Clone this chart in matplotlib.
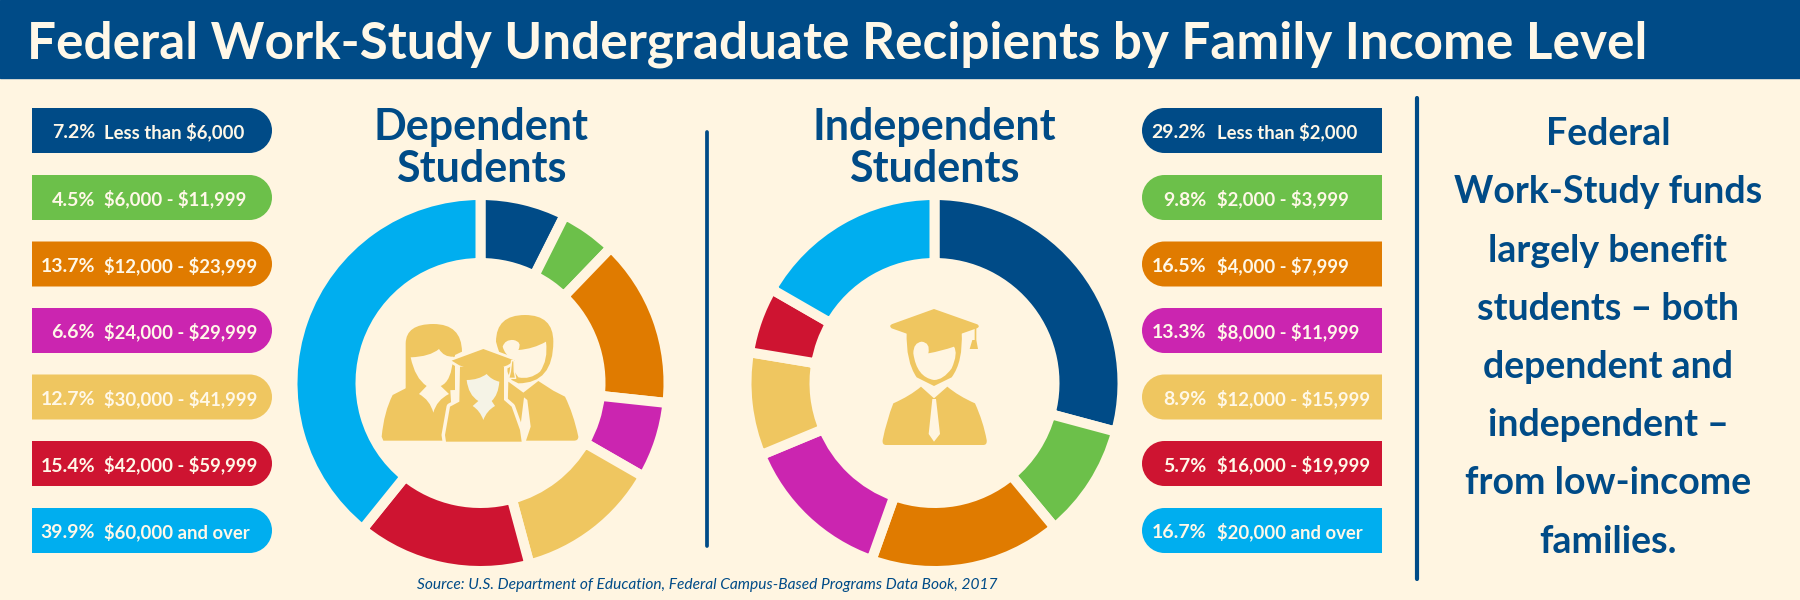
import matplotlib
matplotlib.use("Agg")
import matplotlib.pyplot as plt
from matplotlib.path import Path
from matplotlib.patches import PathPatch, Rectangle

# data
dep_values = [7.2, 4.5, 13.7, 6.6, 12.7, 15.4, 39.9]
# the dependent ring in the picture is not quite to scale with its labels, these are the drawn shares
dep_drawn = [7.4, 4.8, 14.5, 6.6, 12.5, 15.0, 39.2]
dep_labels = ["Less than $6,000", "$6,000 - $11,999", "$12,000 - $23,999", "$24,000 - $29,999",
              "$30,000 - $41,999", "$42,000 - $59,999", "$60,000 and over"]
ind_values = [29.2, 9.8, 16.5, 13.3, 8.9, 5.7, 16.7]
ind_labels = ["Less than $2,000", "$2,000 - $3,999", "$4,000 - $7,999", "$8,000 - $11,999",
              "$12,000 - $15,999", "$16,000 - $19,999", "$20,000 and over"]
colors = ["#004B87", "#6CC04A", "#E07B00", "#CB25B0", "#EFC660", "#CE1431", "#00AEEF"]
note_lines = ["Federal", "Work-Study funds", "largely benefit", "students \u2013 both",
              "dependent and", "independent \u2013", "from low-income", "families."]

BG = "#FFF5E1"
BLUE = "#004B87"
GOLD = "#EFC660"
FACE = "#F5F3E6"
TXT = "#FFF8E8"
FONT = "Lato"

fig = plt.figure(figsize=(18, 6), dpi=100, facecolor=BG)
ax = fig.add_axes([0, 0, 1, 1])
ax.set_xlim(0, 1800)
ax.set_ylim(600, 0)
ax.axis("off")


def shape(ox, oy, segs, color, edge=None, lw=0, z=3):
    verts = [(ox + segs[0][0] / 3, oy + segs[0][1] / 3)]
    codes = [Path.MOVETO]
    for s in segs[1:]:
        if len(s) == 2:
            verts.append((ox + s[0] / 3, oy + s[1] / 3))
            codes.append(Path.LINETO)
        else:
            verts += [(ox + s[0] / 3, oy + s[1] / 3), (ox + s[2] / 3, oy + s[3] / 3)]
            codes += [Path.CURVE3, Path.CURVE3]
    verts.append(verts[0])
    codes.append(Path.CLOSEPOLY)
    ax.add_patch(PathPatch(Path(verts, codes), facecolor=color, edgecolor=edge or "none",
                           linewidth=lw, joinstyle="round", zorder=z))


def pill(x0, x1, y0, y1, color, round_right=True):
    r = (y1 - y0) / 2
    k = 0.55 * r
    if round_right:
        v = [(x0, y0), (x1 - r, y0), (x1 - r + k, y0), (x1, y0 + r - k), (x1, y0 + r),
             (x1, y0 + r + k), (x1 - r + k, y1), (x1 - r, y1), (x0, y1), (x0, y0)]
    else:
        v = [(x1, y0), (x0 + r, y0), (x0 + r - k, y0), (x0, y0 + r - k), (x0, y0 + r),
             (x0, y0 + r + k), (x0 + r - k, y1), (x0 + r, y1), (x1, y1), (x1, y0)]
    c = [Path.MOVETO, Path.LINETO, Path.CURVE4, Path.CURVE4, Path.CURVE4,
         Path.CURVE4, Path.CURVE4, Path.CURVE4, Path.LINETO, Path.CLOSEPOLY]
    ax.add_patch(PathPatch(Path(v, c), facecolor=color, edgecolor="none", zorder=2))


def donut(values, cx, cy):
    # stroke in the background colour makes the gaps, so the wedge is 5 px oversize
    a = fig.add_axes([(cx - 200) / 1800, 1 - (cy + 200) / 600, 400 / 1800, 400 / 600])
    a.pie(values, colors=colors, startangle=90, counterclock=False, radius=188,
          wedgeprops=dict(width=68, edgecolor=BG, linewidth=7.2))
    a.set_xlim(-200, 200)
    a.set_ylim(-200, 200)
    a.patch.set_visible(False)


def label(x, y, s, size, ha="left", color=BLUE, **kw):
    kw.setdefault("fontweight", "bold")
    ax.text(x, y, s, color=color, fontsize=size, family=FONT, ha=ha, va="baseline",
            parse_math=False, zorder=4, **kw)


# header
ax.add_patch(Rectangle((0, 0), 1800, 78, color=BLUE, zorder=1))
label(27, 59, "Federal Work-Study Undergraduate Recipients by Family Income Level", 36.9, color=TXT)

# legends
tops = [108, 175, 241.5, 308, 374.5, 441, 508]
for i in range(7):
    y0 = tops[i]
    pill(32, 272, y0, y0 + 45, colors[i], True)
    pill(1142, 1382, y0, y0 + 45, colors[i], False)
    base = y0 + 30.5
    label(95, base, f"{dep_values[i]}%", 14, ha="right", color=TXT)
    label(104, base, dep_labels[i], 13.3, color=TXT)
    label(1206, base, f"{ind_values[i]}%", 14, ha="right", color=TXT)
    label(1217, base, ind_labels[i], 13.3, color=TXT)

# donuts
donut(dep_drawn, 480.5, 383)
donut(ind_values, 934.5, 383)

# donut headings
for cx, w1 in [(481, "Dependent"), (934, "Independent")]:
    label(cx, 140, w1, 31, ha="center")
    label(cx, 182, "Students", 31, ha="center")

# dividers
ax.plot([707, 707], [132, 546], color=BLUE, lw=2.7, solid_capstyle="round")
ax.plot([1417, 1417], [98, 579], color=BLUE, lw=3, solid_capstyle="round")

# side note
note_base = [145, 203, 262, 320, 378, 436, 494, 553]
for line, b in zip(note_lines, note_base):
    label(1608, b, line, 27, ha="center")

# source
label(707, 589, "Source: U.S. Department of Education, Federal Campus-Based Programs Data Book, 2017",
      11.2, ha="center", style="italic", fontweight="normal")

# family icon
ox, oy = 370, 300
# woman
shape(ox, oy, [(107, 275), (107, 130), (108, 72, 190, 72), (275, 72, 276, 155), (255, 165), (255, 270)], GOLD)
shape(ox, oy, [(35, 410), (42, 335, 68, 285), (107, 265), (150, 255), (240, 255), (250, 422), (40, 422)], GOLD)
shape(ox, oy, [(122, 172), (180, 170, 207, 147), (222, 172, 250, 170), (245, 245, 212, 258),
               (237, 282), (200, 300, 190, 338), (180, 300, 147, 282), (170, 258), (135, 235, 122, 172)], BG)
# man
shape(ox, oy, [(378, 125), (378, 45, 465, 45), (550, 45, 550, 125), (550, 250, 445, 250), (425, 240), (395, 190, 378, 125)], GOLD)
shape(ox, oy, [(398, 140), (405, 118, 430, 120), (458, 125, 445, 150), (490, 147, 528, 125),
               (535, 180, 510, 215), (480, 240, 445, 232), (430, 210), (425, 175), (405, 165, 398, 140)], BG)
shape(ox, oy, [(415, 245), (460, 278), (505, 243), (550, 272), (585, 290), (610, 340, 625, 410),
               (625, 422, 612, 422), (468, 422), (482, 380), (472, 300), (462, 292), (450, 390), (440, 422), (410, 422)], GOLD)
# graduate with cream halo
halo = [(270, 200), (268, 305), (240, 320), (225, 405), (228, 425), (455, 425), (450, 390),
        (425, 320), (402, 300), (402, 200)]
shape(ox, oy, halo, GOLD, edge=BG, lw=5, z=4)
shape(ox, oy, [(340, 147), (435, 182), (412, 196), (340, 222), (268, 196), (245, 182)], GOLD, edge=BG, lw=4, z=4)
shape(ox, oy, [(340, 147), (435, 182), (412, 196), (340, 222), (268, 196), (245, 182)], GOLD, z=5)
shape(ox, oy, halo, GOLD, z=5)
shape(ox, oy, [(290, 240), (325, 240, 350, 222), (365, 240, 388, 245), (385, 285, 365, 303), (375, 318),
               (350, 332, 340, 360), (330, 332, 308, 318), (325, 303), (295, 285, 290, 240)], FACE, z=6)
shape(ox, oy, [(425, 182), (432, 182), (433, 215), (437, 235), (416, 235), (421, 215)], GOLD, edge=BG, lw=1, z=6)

# graduate icon
ox, oy = 860, 290
shape(ox, oy, [(140, 125), (137, 215, 170, 262), (222, 288), (275, 262), (310, 215, 305, 125)], GOLD)
shape(ox, oy, [(160, 190), (160, 158, 185, 155), (212, 158, 205, 190), (245, 183, 282, 170),
               (295, 190, 275, 235), (250, 270, 222, 270), (170, 262, 160, 190)], BG)
shape(ox, oy, [(222, 57), (352, 103), (362, 110, 350, 115), (222, 160), (95, 115), (85, 107, 97, 102)], GOLD)
shape(ox, oy, [(344, 112), (349, 112), (349, 150), (354, 177), (329, 177), (337, 150), (344, 150)], GOLD)
shape(ox, oy, [(68, 450), (80, 390, 100, 340), (150, 318, 183, 290), (222, 325), (262, 290),
               (295, 318, 345, 340), (370, 395, 380, 450), (382, 465, 370, 465), (78, 465), (66, 465, 68, 450)], GOLD)
shape(ox, oy, [(217, 327), (228, 327), (240, 432), (222, 455), (206, 432)], BG)

fig.savefig("out.png", dpi=100, facecolor=BG)
